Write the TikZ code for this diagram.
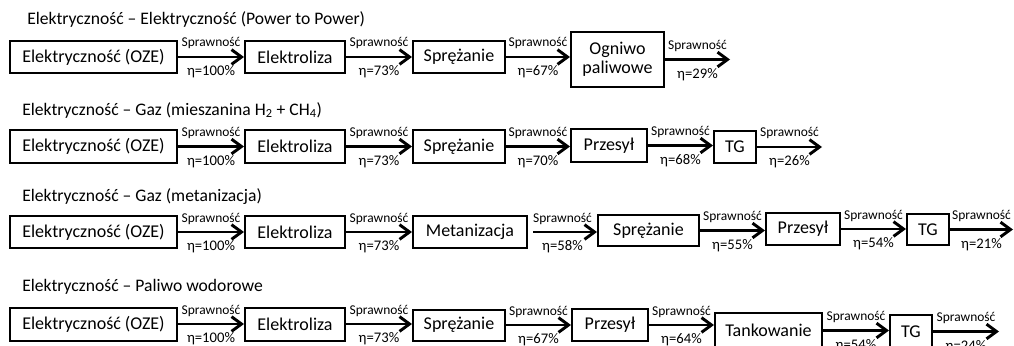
\documentclass[tikz,border=0pt]{standalone}
\usepackage{fontspec}
\setmainfont{Carlito}
\usetikzlibrary{arrows.meta}
\newcommand\bx[6]{\node[box,minimum width=#4*0.75pt,minimum height=#5*0.75pt] (#1) at (#2,#3) {#6};}
\newcommand\flow[3]{\draw[arr] (#1.east) -- (#1.east -| #2) node[lab,midway,anchor=base,yshift=7.5pt]{Sprawność} node[etalab,midway,anchor=base,yshift=-14pt]{η=#3\%};}
\begin{document}
\begin{tikzpicture}[x=0.75pt,y=-0.75pt,
  box/.style={draw,line width=1.5pt,inner sep=0pt,align=center,font=\fontsize{13.5}{14.5}\selectfont},
  arr/.style={line width=2.2pt,-{Straight Barb[length=7.5pt,width=11pt]}},
  lab/.style={inner sep=0pt,font=\fontsize{10.1}{11}\selectfont},
  etalab/.style={inner sep=0pt,font=\fontsize{11}{12}\selectfont},
  ttl/.style={inner sep=0pt,anchor=base west,font=\fontsize{13.2}{15}\selectfont}]
\useasboundingbox (0,0) rectangle (1014,346);
\clip (0,0) rectangle (1014,346);
% Row 1
\node[ttl] (t1) at (27,25) {Elektryczność – Elektryczność (Power to Power)};
\bx{a1}{93.5}{57}{167}{32}{Elektryczność (OZE)}
\bx{a2}{295}{57}{100}{32}{Elektroliza}
\bx{a3}{459}{57}{92}{32}{Sprężanie}
\bx{a4}{617.5}{59.5}{93}{55}{Ogniwo\\paliwowe}
\coordinate (e1) at (730,57);
\flow{a1}{a2.west}{100}
\flow{a2}{a3.west}{73}
\flow{a3}{a4.west}{67}
\flow{a4}{e1}{29}
% Row 2
\node[ttl] (t2) at (22,115) {Elektryczność – Gaz (mieszanina H\textsubscript{2} + CH\textsubscript{4})};
\bx{b1}{93.5}{146.5}{167}{33}{Elektryczność (OZE)}
\bx{b2}{295}{146.5}{100}{33}{Elektroliza}
\bx{b3}{459}{146.5}{92}{33}{Sprężanie}
\bx{b4}{609}{145.5}{76}{33}{Przesył}
\bx{b5}{735}{147}{42}{32}{TG}
\coordinate (e2) at (822,147);
\flow{b1}{b2.west}{100}
\flow{b2}{b3.west}{73}
\flow{b3}{b4.west}{70}
\flow{b4}{b5.west}{68}
\flow{b5}{e2}{26}
% Row 3
\node[ttl] (t3) at (22,201) {Elektryczność – Gaz (metanizacja)};
\bx{c1}{93.5}{232}{167}{32}{Elektryczność (OZE)}
\bx{c2}{295}{232}{100}{32}{Elektroliza}
\bx{c3}{470}{232}{114}{32}{Metanizacja}
\bx{c4}{648.5}{230.5}{101}{31}{Sprężanie}
\bx{c5}{803}{229}{74}{32}{Przesył}
\bx{c6}{928}{229.5}{42}{31}{TG}
\coordinate (e3) at (1013,230);
\flow{c1}{c2.west}{100}
\flow{c2}{c3.west}{73}
\draw[arr,shorten <=3.75pt] (c3.east) -- (c3.east -| c4.west) node[lab,midway,anchor=base,yshift=7.5pt]{Sprawność} node[etalab,midway,anchor=base,yshift=-14pt]{η=58\%};
\flow{c4}{c5.west}{55}
\flow{c5}{c6.west}{54}
\flow{c6}{e3}{21}
% Row 4
\node[ttl] (t4) at (22,291) {Elektryczność – Paliwo wodorowe};
\bx{d1}{93.5}{324}{167}{33}{Elektryczność (OZE)}
\bx{d2}{295}{324}{100}{33}{Elektroliza}
\bx{d3}{459}{325}{92}{31}{Sprężanie}
\bx{d4}{610}{325}{76}{32}{Przesył}
\bx{d5}{768.5}{330.5}{107}{35}{Tankowanie}
\bx{d6}{911}{331.5}{42}{33}{TG}
\coordinate (e4) at (999,331);
\flow{d1}{d2.west}{100}
\flow{d2}{d3.west}{73}
\flow{d3}{d4.west}{67}
\flow{d4}{d5.west}{64}
\flow{d5}{d6.west}{54}
\flow{d6}{e4}{24}
\end{tikzpicture}
\end{document}
